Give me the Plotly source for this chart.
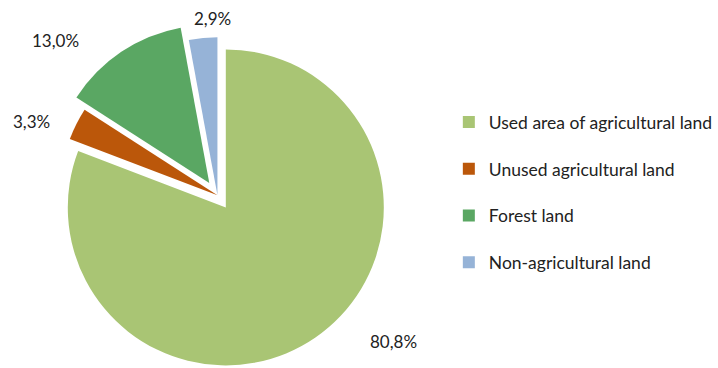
import plotly.graph_objects as go

# ---- data ----
categories = ["Used area of agricultural land", "Unused agricultural land",
              "Forest land", "Non-agricultural land"]
shares = [80.8, 3.3, 13.0, 2.9]
colors = ["#A9C574", "#BB570A", "#5AA763", "#96B3D7"]

def fmt(v):
    return f"{v:.1f}".replace(".", ",") + "%"

label_texts = [fmt(v) for v in shares]

# label anchor points in paper coordinates (layout only)
label_pos = [(0.5515, 0.073), (0.0446, 0.671), (0.078, 0.891), (0.298, 0.951)]

FONT = "Lato, Carlito, Calibri, sans-serif"
TXT = "#222222"

fig = go.Figure()
fig.add_trace(go.Pie(
    labels=categories,
    values=shares,
    sort=False,
    direction="clockwise",
    rotation=0,
    pull=[0.093, 0, 0.093, 0],
    marker=dict(colors=colors, line=dict(color="white", width=0)),
    textinfo="none",
    showlegend=False,
    domain=dict(x=[0.0613, 0.5487], y=[0, 0.9386]),
))

# legend entries
for name, col in zip(categories, colors):
    fig.add_trace(go.Scatter(
        x=[None], y=[None], mode="markers", name=name,
        legendgroup=name,
        marker=dict(symbol="square", size=10, color=col),
    ))

annotations = []
for txt, (px, py) in zip(label_texts, label_pos):
    annotations.append(dict(
        x=px, y=py, xref="paper", yref="paper", text=txt, showarrow=False,
        xanchor="center", yanchor="middle",
        font=dict(family=FONT, size=17, color=TXT),
    ))

fig.update_layout(
    width=718, height=368,
    margin=dict(l=0, r=0, t=0, b=0),
    paper_bgcolor="white", plot_bgcolor="white",
    xaxis=dict(visible=False), yaxis=dict(visible=False),
    showlegend=True,
    legend=dict(
        x=0.6295, y=0.478, xanchor="left", yanchor="middle",
        font=dict(family=FONT, size=17.5, color=TXT),
        tracegroupgap=21, itemsizing="constant",
        bgcolor="rgba(0,0,0,0)",
    ),
    annotations=annotations,
)

fig.write_html(
    "out.html",
    config={"displayModeBar": False},
    post_script="document.body.style.margin='0';document.body.style.overflow='hidden';",
)
